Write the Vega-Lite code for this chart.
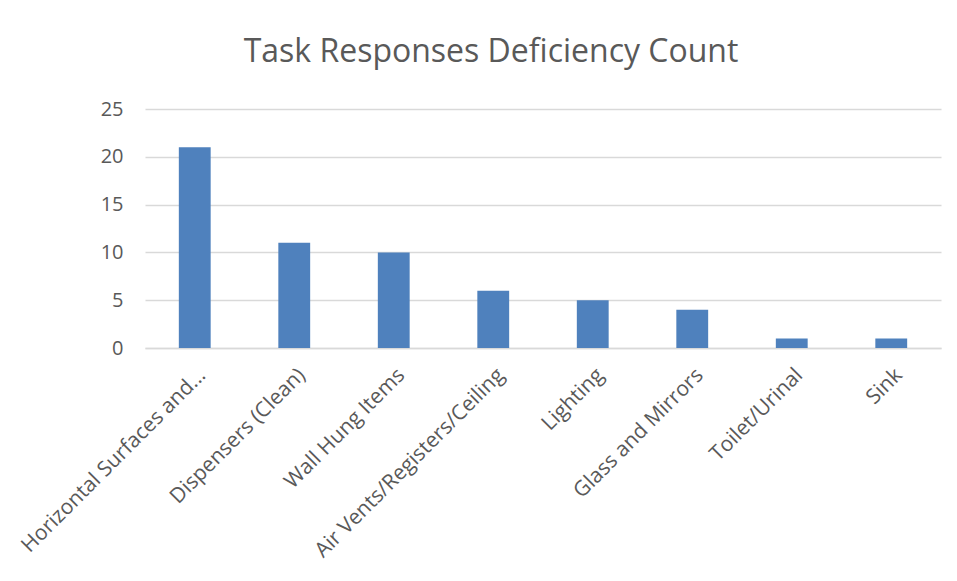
{
  "$schema": "https://vega.github.io/schema/vega-lite/v6.json",
  "autosize": {"type": "none"},
  "padding": {"left": 145, "top": 109, "right": 16, "bottom": 233},
  "width": 796,
  "height": 239,
  "background": "white",
  "title": {
    "text": "Task Responses Deficiency Count",
    "font": "Open Sans",
    "fontSize": 32,
    "fontWeight": "normal",
    "color": "#595959",
    "frame": "group",
    "anchor": "middle",
    "dx": -52,
    "offset": 30
  },
  "data": {
    "values": [
      {"task": "Horizontal Surfaces and...", "count": 21},
      {"task": "Dispensers (Clean)", "count": 11},
      {"task": "Wall Hung Items", "count": 10},
      {"task": "Air Vents/Registers/Ceiling", "count": 6},
      {"task": "Lighting", "count": 5},
      {"task": "Glass and Mirrors", "count": 4},
      {"task": "Toilet/Urinal", "count": 1},
      {"task": "Sink", "count": 1}
    ]
  },
  "mark": {"type": "bar", "color": "#4F81BD"},
  "encoding": {
    "x": {
      "field": "task",
      "type": "nominal",
      "sort": null,
      "title": null,
      "scale": {"paddingInner": 0.68, "paddingOuter": 0.34},
      "axis": {
        "labelAngle": -45,
        "labelFont": "Open Sans",
        "labelFontSize": 21,
        "labelColor": "#595959",
        "labelLimit": 400,
        "ticks": false,
        "domainColor": "#D9D9D9",
        "domainWidth": 1.5,
        "labelPadding": 16
      }
    },
    "y": {
      "field": "count",
      "type": "quantitative",
      "title": null,
      "scale": {"domain": [0, 25]},
      "axis": {
        "values": [0, 5, 10, 15, 20, 25],
        "labelFont": "Open Sans",
        "labelFontSize": 20,
        "labelColor": "#595959",
        "ticks": false,
        "domain": false,
        "gridColor": "#D9D9D9",
        "gridWidth": 1.5,
        "labelPadding": 22
      }
    }
  },
  "config": {"view": {"stroke": null}}
}
